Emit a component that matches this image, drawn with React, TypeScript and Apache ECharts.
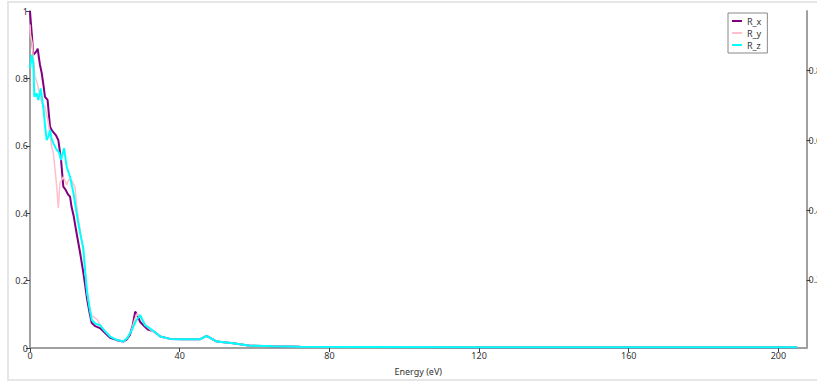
import React, { useEffect, useRef } from "react";
import * as echarts from "echarts";

// Reflectivity spectra along the three crystal axes
const energyX = [0, 0.13, 0.45, 0.9, 1.3, 1.7, 2.06, 2.4, 2.67, 3.13, 3.6, 4.0, 4.7, 5.35, 5.9, 6.5, 7.0, 7.57, 8.3, 8.9, 9.5, 10.2, 10.7, 11.1, 11.7, 12.3, 13.4, 14.3, 15.3, 16.0, 16.5, 17.4, 18.7, 20.0, 21.4, 23.0, 24.9, 25.8, 26.7, 27.5, 28.1, 28.6, 29.4, 30.5, 31.5, 32.9, 34.8, 37.4, 41.0, 45.5, 47.2, 49.9, 54.3, 58.8, 65, 72.2, 90, 120, 160, 205];
const valuesX = [1.0, 0.98, 0.935, 0.87, 0.875, 0.88, 0.888, 0.86, 0.84, 0.816, 0.78, 0.745, 0.736, 0.657, 0.645, 0.637, 0.63, 0.617, 0.558, 0.479, 0.47, 0.455, 0.449, 0.419, 0.39, 0.35, 0.282, 0.22, 0.142, 0.1, 0.074, 0.065, 0.059, 0.045, 0.03, 0.024, 0.019, 0.025, 0.039, 0.07, 0.108, 0.1, 0.078, 0.065, 0.055, 0.05, 0.034, 0.027, 0.026, 0.026, 0.036, 0.019, 0.014, 0.007, 0.005, 0.004, 0.003, 0.002, 0.002, 0.002];

const energyY = [0, 0.13, 0.6, 0.9, 1.34, 1.95, 2.67, 3.13, 4.0, 4.9, 5.8, 6.23, 7.14, 7.57, 8.0, 8.9, 9.8, 10.4, 11.1, 12.0, 12.5, 13.4, 14.4, 15.3, 16.3, 16.9, 17.9, 18.7, 20.0, 21.4, 23.0, 24.9, 26.0, 27.0, 28.0, 28.6, 30.0, 31.5, 32.9, 34.8, 37.4, 41.0, 45.5, 47.2, 49.9, 54.3, 58.8, 65, 72.2, 90, 120, 160, 205];
const valuesY = [0.96, 0.93, 0.903, 0.86, 0.805, 0.785, 0.746, 0.727, 0.716, 0.668, 0.597, 0.579, 0.479, 0.415, 0.489, 0.508, 0.484, 0.5, 0.498, 0.479, 0.419, 0.35, 0.27, 0.16, 0.1, 0.093, 0.085, 0.07, 0.05, 0.035, 0.025, 0.019, 0.03, 0.05, 0.085, 0.102, 0.085, 0.06, 0.048, 0.033, 0.027, 0.026, 0.026, 0.035, 0.019, 0.014, 0.007, 0.005, 0.004, 0.003, 0.002, 0.002, 0.002];

const energyZ = [0, 0.45, 0.9, 1.15, 1.5, 1.8, 2.2, 2.5, 2.86, 3.4, 3.7, 4.0, 4.47, 5.0, 5.35, 5.8, 6.23, 7.0, 7.83, 8.29, 9.1, 9.8, 10.7, 11.6, 12.9, 13.6, 14.25, 14.7, 15.2, 15.9, 16.5, 17.5, 18.7, 20.0, 21.4, 23.0, 24.9, 26.0, 27.2, 28.3, 29.4, 30.7, 31.8, 32.9, 34.8, 37.4, 41.0, 45.5, 47.2, 48.5, 49.9, 54.3, 58.8, 65, 72.2, 90, 120, 160, 205];
const valuesZ = [0.83, 0.87, 0.845, 0.746, 0.75, 0.756, 0.736, 0.75, 0.77, 0.727, 0.7, 0.662, 0.617, 0.63, 0.647, 0.62, 0.608, 0.59, 0.579, 0.558, 0.593, 0.538, 0.508, 0.46, 0.37, 0.33, 0.297, 0.232, 0.172, 0.12, 0.083, 0.072, 0.068, 0.05, 0.034, 0.025, 0.019, 0.03, 0.053, 0.08, 0.098, 0.068, 0.06, 0.051, 0.034, 0.027, 0.026, 0.026, 0.036, 0.028, 0.019, 0.014, 0.007, 0.005, 0.004, 0.003, 0.002, 0.002, 0.002];

const seriesNames = ["R_x", "R_y", "R_z"];
const seriesColors = ["#800080", "#ffc0cb", "#00ffff"];
const xTicks = [0, 40, 80, 120, 160, 200];
const rightTicks = [0.2, 0.4, 0.6, 0.8];

const zip = (xs: number[], ys: number[]) => xs.map((x, i) => [x, ys[i]]);

const FONT = "Noto Sans";

export default function App() {
  const ref = useRef<HTMLDivElement>(null);

  useEffect(() => {
    if (!ref.current) return;
    const chart = echarts.init(ref.current, undefined, { renderer: "svg" });
    const axisLineStyle = { color: "#a0a0a0", width: 2 };
    const tickStyle = { color: "#404040", width: 1 };
    const labelStyle = { fontSize: 9, color: "#333", fontFamily: FONT };

    chart.setOption({
      animation: false,
      backgroundColor: "#fff",
      textStyle: { fontFamily: FONT },
      graphic: [
        {
          type: "rect",
          silent: true,
          z: -10,
          shape: { x: 8, y: 2, width: 830, height: 378 },
          style: { fill: "none", stroke: "#e6e6e6", lineWidth: 2 },
        },
      ],
      grid: { left: 30, right: 10.5, top: 11, bottom: 37, outerBoundsMode: "none", containLabel: false },
      legend: {
        data: seriesNames,
        orient: "vertical",
        left: 728,
        top: 13,
        padding: [3, 6, 3, 4],
        itemGap: 2,
        itemWidth: 10,
        itemHeight: 2,
        icon: "rect",
        borderColor: "#888",
        borderWidth: 1,
        textStyle: { ...labelStyle, lineHeight: 10 },
      },
      xAxis: {
        type: "value",
        min: 0,
        max: 207.5,
        name: "Energy (eV)",
        nameLocation: "middle",
        nameGap: 19,
        nameTextStyle: labelStyle,
        axisLine: { show: true, onZero: false, lineStyle: axisLineStyle },
        axisTick: { show: true, length: 4, customValues: xTicks, lineStyle: tickStyle },
        axisLabel: { ...labelStyle, margin: 3, customValues: xTicks },
        splitLine: { show: false },
      },
      yAxis: [
        {
          type: "value",
          position: "left",
          min: 0,
          max: 1,
          interval: 0.2,
          axisLine: { show: true, lineStyle: axisLineStyle },
          axisTick: { show: true, length: 4, lineStyle: tickStyle },
          axisLabel: { ...labelStyle, margin: 2 },
          splitLine: { show: false },
        },
        {
          type: "value",
          position: "right",
          min: 0.005,
          max: 0.971,
          axisLine: { show: true, lineStyle: axisLineStyle },
          axisTick: { show: true, length: 4, customValues: rightTicks, lineStyle: tickStyle },
          axisLabel: { ...labelStyle, margin: 2, customValues: rightTicks },
          splitLine: { show: false },
        },
      ],
      series: [
        {
          name: seriesNames[0],
          type: "line",
          showSymbol: false,
          data: zip(energyX, valuesX),
          itemStyle: { color: seriesColors[0] },
          lineStyle: { color: seriesColors[0], width: 2 },
          z: 2,
        },
        {
          name: seriesNames[1],
          type: "line",
          showSymbol: false,
          data: zip(energyY, valuesY),
          itemStyle: { color: seriesColors[1] },
          lineStyle: { color: seriesColors[1], width: 1.5 },
          z: 3,
        },
        {
          name: seriesNames[2],
          type: "line",
          showSymbol: false,
          data: zip(energyZ, valuesZ),
          itemStyle: { color: seriesColors[2] },
          lineStyle: { color: seriesColors[2], width: 2 },
          z: 4,
        },
      ],
    });
    return () => chart.dispose();
  }, []);

  return (
    <div
      ref={ref}
      style={{ position: "fixed", left: 0, top: 0, width: 817, height: 385 }}
    />
  );
}
